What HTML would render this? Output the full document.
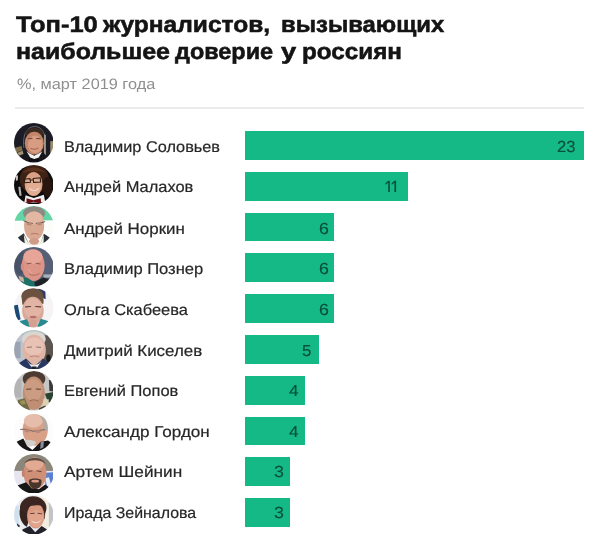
<!DOCTYPE html>
<html lang="ru">
<head>
<meta charset="utf-8">
<title>Топ-10 журналистов</title>
<style>
html,body{margin:0;padding:0;background:#fff;}
body{width:600px;height:547px;position:relative;overflow:hidden;text-rendering:geometricPrecision;font-family:"Liberation Sans",sans-serif;}
.chart{position:absolute;left:0;top:0;width:600px;height:547px;}
h1{position:absolute;left:0;margin:0;font-weight:bold;font-size:22.5px;line-height:1;color:#141414;-webkit-text-stroke:0.55px #141414;white-space:nowrap;transform-origin:0 0;}
h1 span{display:block;position:absolute;left:0;white-space:nowrap;transform-origin:0 0;}
.sub{position:absolute;left:16.7px;margin:0;font-size:15px;line-height:1;color:#8f8f8f;white-space:nowrap;transform-origin:0 0;}
.rule{position:absolute;left:14.5px;top:106.9px;width:569.3px;height:1.8px;background:#ebebeb;border:0;margin:0;}
ul{list-style:none;margin:0;padding:0;}
li{position:absolute;left:0;width:600px;height:0;}
.av{position:absolute;display:block;}
.name{position:absolute;left:63.6px;font-size:15.5px;line-height:1;color:#262626;-webkit-text-stroke:0.2px #262626;white-space:nowrap;transform-origin:0 0;}
.bar{position:absolute;left:245px;height:29px;background:#15b985;}
.val{position:absolute;font-size:16px;line-height:1;color:#0b4f3a;-webkit-text-stroke:0.15px #0b4f3a;white-space:nowrap;transform-origin:0 0;}
</style>
</head>
<body>
<div class="chart">
<h1 style="top:0"><span style="left:15.70px;top:14px;transform:scaleX(1.1331)">Топ-10</span> <span style="left:103.30px;top:14px;transform:scaleX(1.0912)">журналистов,</span> <span style="left:280.50px;top:14px;transform:scaleX(1.0600)">вызывающих</span> <span style="left:16.00px;top:41px;transform:scaleX(1.1084)">наибольшее</span> <span style="left:174.70px;top:41px;transform:scaleX(1.0417)">доверие</span> <span style="left:280.80px;top:41px;transform:scaleX(1.2141)">у</span> <span style="left:302.40px;top:41px;transform:scaleX(1.0778)">россиян</span></h1>
<p class="sub" style="top:77.00px;transform:scaleX(1.0873)">%, март 2019 года</p>
<hr class="rule">
<ul>
<li>
<svg class="av" style="left:13.60px;top:123.40px" width="39.6" height="39.6" viewBox="58 62 433.2 433.2"><defs><clipPath id="c0"><circle cx="274.6" cy="278.6" r="216.6"/></clipPath><filter id="b0" x="-10%" y="-10%" width="120%" height="120%"><feGaussianBlur stdDeviation="6"/></filter></defs><g clip-path="url(#c0)"><g filter="url(#b0)"><rect x="0" y="0" width="600" height="600" fill="#1d1e25"/><path d="M62 335 L140 315 L152 362 L76 388 Z" fill="#7d6d4e"/><path d="M95 388 L152 366 L162 402 L112 418Z" fill="#a39474"/><rect x="385" y="190" width="22" height="240" fill="#a89a84"/><rect x="455" y="260" width="30" height="150" fill="#9c8c70"/><path d="M165 330 C150 180 200 105 285 100 C370 105 415 180 398 330" fill="none" stroke="#8b8b90" stroke-width="7" stroke-linecap="round"/><ellipse cx="280" cy="172" rx="98" ry="62" fill="#3b2a22"/><ellipse cx="280" cy="283" rx="104" ry="125" fill="#c4866a"/><ellipse cx="290" cy="295" rx="80" ry="95" fill="#d89c82"/><path d="M215 235 L255 232 M305 232 L345 235" fill="none" stroke="#6b4634" stroke-width="12" stroke-linecap="round"/><path d="M240 340 C270 352 295 352 322 338" fill="none" stroke="#9a5a48" stroke-width="10" stroke-linecap="round"/><path d="M120 470 L190 370 L280 430 L370 370 L450 470 L450 520 L120 520Z" fill="#14151a"/><path d="M195 372 L235 440 L280 455 L330 440 L368 372 L330 395 L280 420 L230 395Z" fill="#f2f2f2"/><path d="M230 450 L280 462 L330 450 L335 490 L280 476 L225 490Z" fill="#0e0e12"/></g></g></svg>
<span class="name" style="top:140.00px;transform:scaleX(1.0511)">Владимир Соловьев</span>
<div class="bar" style="top:130.90px;width:339.00px;height:28.8px"></div>
<span class="val" style="left:556.60px;top:140.00px;transform:scaleX(1.0315)">23</span>
</li>
<li>
<svg class="av" style="left:13.60px;top:164.67px" width="39.6" height="39.6" viewBox="58 60 433.2 433.2"><defs><clipPath id="c1"><circle cx="274.6" cy="276.6" r="216.6"/></clipPath><filter id="b1" x="-10%" y="-10%" width="120%" height="120%"><feGaussianBlur stdDeviation="6"/></filter></defs><g clip-path="url(#c1)"><g filter="url(#b1)"><rect x="0" y="0" width="600" height="600" fill="#0d0909"/><path d="M75 180 L102 172 L100 226 L80 232Z" fill="#c9c5c5"/><path d="M105 300 L128 295 L142 395 L118 400Z" fill="#b5b0b0"/><ellipse cx="280" cy="215" rx="160" ry="160" fill="#3d2013"/><ellipse cx="425" cy="300" rx="55" ry="110" fill="#26140e"/><ellipse cx="272" cy="268" rx="98" ry="132" fill="#d9a084"/><ellipse cx="272" cy="300" rx="80" ry="95" fill="#e2ad92"/><path d="M150 150 C200 70 340 60 410 150 C360 120 220 120 150 150Z" fill="#5a301c"/><path d="M168 215 L232 208 L238 250 L175 255Z M268 208 L345 200 L350 245 L272 250Z M232 225 L268 222" fill="none" stroke="#2a1a14" stroke-width="11" stroke-linecap="round"/><path d="M230 320 C260 345 300 345 325 318" fill="none" stroke="#f4e6e0" stroke-width="11" stroke-linecap="round"/><path d="M185 390 L275 420 L385 385 L400 470 L170 470Z" fill="#f1eeee"/><path d="M195 425 L270 445 L350 425 L355 482 L270 462 L195 485Z" fill="#6b1119"/></g></g></svg>
<span class="name" style="top:180.00px;transform:scaleX(1.0601)">Андрей Малахов</span>
<div class="bar" style="top:171.72px;width:162.60px;height:28.8px"></div>
<span class="val" style="left:383.6px;top:180px;letter-spacing:-1.9px;clip-path:inset(0 0 6px 0);transform:scale(1.06,1.2)">11</span>
</li>
<li>
<svg class="av" style="left:13.60px;top:205.94px" width="39.6" height="39.6" viewBox="58 68 433.2 433.2"><defs><clipPath id="c2"><circle cx="274.6" cy="284.6" r="216.6"/></clipPath><filter id="b2" x="-10%" y="-10%" width="120%" height="120%"><feGaussianBlur stdDeviation="6"/></filter></defs><g clip-path="url(#c2)"><g filter="url(#b2)"><rect x="0" y="0" width="600" height="600" fill="#fcfcfb"/><path d="M40 230 C60 90 180 60 280 60 C380 60 480 100 500 225 Z" fill="#63d5a5"/><ellipse cx="278" cy="150" rx="120" ry="80" fill="#8d8983"/><ellipse cx="278" cy="285" rx="110" ry="160" fill="#d9a890"/><ellipse cx="278" cy="200" rx="95" ry="70" fill="#e2b8a2"/><path d="M165 230 L225 255 L260 258 M300 258 L345 255 L395 240" fill="none" stroke="#4a4038" stroke-width="9" stroke-linecap="round"/><ellipse cx="225" cy="265" rx="30" ry="16" fill="#b98a78"/><ellipse cx="335" cy="265" rx="30" ry="16" fill="#b98a78"/><path d="M245 375 C270 365 300 365 325 378" fill="none" stroke="#a86a5c" stroke-width="9" stroke-linecap="round"/><path d="M90 420 L165 365 L215 470 L180 520 L90 520Z" fill="#2a3038"/><path d="M460 420 L385 372 L350 470 L380 520 L460 520Z" fill="#2a3038"/><path d="M165 380 L215 470 L275 500 L345 470 L385 385 L380 520 L180 520Z" fill="#f1ecdf"/><ellipse cx="278" cy="455" rx="55" ry="38" fill="#cf9c86"/></g></g></svg>
<span class="name" style="top:222.00px;transform:scaleX(1.0937)">Андрей Норкин</span>
<div class="bar" style="top:212.54px;width:89.30px;height:28.8px"></div>
<span class="val" style="left:318.60px;top:222.00px;transform:scaleX(1.1121)">6</span>
</li>
<li>
<svg class="av" style="left:13.60px;top:247.21px" width="39.6" height="39.6" viewBox="58 85 433.2 433.2"><defs><clipPath id="c3"><circle cx="274.6" cy="301.6" r="216.6"/></clipPath><filter id="b3" x="-10%" y="-10%" width="120%" height="120%"><feGaussianBlur stdDeviation="6"/></filter></defs><g clip-path="url(#c3)"><g filter="url(#b3)"><rect x="0" y="0" width="600" height="600" fill="#545e74"/><ellipse cx="120" cy="250" rx="60" ry="140" fill="#485268"/><rect x="380" y="385" width="100" height="35" fill="#aab0bc"/><ellipse cx="268" cy="285" rx="125" ry="172" fill="#dc9486"/><ellipse cx="265" cy="190" rx="105" ry="80" fill="#e7a597"/><ellipse cx="150" cy="300" rx="18" ry="40" fill="#d88a80"/><path d="M200 268 L245 262 M300 262 L345 270" fill="none" stroke="#8a5a54" stroke-width="11" stroke-linecap="round"/><path d="M215 330 L255 375" fill="none" stroke="#f0b0a8" stroke-width="9" stroke-linecap="round"/><path d="M230 385 C260 400 300 398 335 375" fill="none" stroke="#a8605a" stroke-width="9" stroke-linecap="round"/><path d="M150 430 L200 420 L280 470 L300 530 L150 530Z" fill="#1b7068"/><path d="M280 470 L380 420 L440 440 L440 530 L290 530Z" fill="#1d2426"/><path d="M110 400 L160 420 L170 470 L120 450Z" fill="#c8b89c"/></g></g></svg>
<span class="name" style="top:262.00px;transform:scaleX(1.0675)">Владимир Познер</span>
<div class="bar" style="top:253.36px;width:89.30px;height:28.8px"></div>
<span class="val" style="left:318.60px;top:262.00px;transform:scaleX(1.1121)">6</span>
</li>
<li>
<svg class="av" style="left:13.60px;top:288.48px" width="39.6" height="39.6" viewBox="58 78 433.2 433.2"><defs><clipPath id="c4"><circle cx="274.6" cy="294.6" r="216.6"/></clipPath><filter id="b4" x="-10%" y="-10%" width="120%" height="120%"><feGaussianBlur stdDeviation="6"/></filter></defs><g clip-path="url(#c4)"><g filter="url(#b4)"><rect x="0" y="0" width="600" height="600" fill="#f5f3f3"/><path d="M55 270 L100 260 L130 420 L90 440Z" fill="#1b4a72"/><path d="M320 70 L400 90 L405 200 L340 170Z" fill="#2b3b6c"/><ellipse cx="262" cy="165" rx="122" ry="85" fill="#5e4636"/><path d="M140 170 C150 100 240 70 330 100 C380 130 385 200 380 250 L150 260Z" fill="#6b513f"/><ellipse cx="265" cy="325" rx="118" ry="150" fill="#d9a898"/><ellipse cx="265" cy="300" rx="100" ry="110" fill="#e2b4a4"/><path d="M185 285 L240 280 M295 280 L350 285" fill="none" stroke="#5a4038" stroke-width="12" stroke-linecap="round"/><ellipse cx="268" cy="395" rx="38" ry="14" fill="#b8706c"/><path d="M120 440 L200 420 L240 500 L120 520Z" fill="#2a8a92"/><path d="M430 440 L350 415 L310 500 L430 520Z" fill="#2a8a92"/><ellipse cx="268" cy="470" rx="50" ry="45" fill="#d4a090"/></g></g></svg>
<span class="name" style="top:303.00px;transform:scaleX(1.0614)">Ольга Скабеева</span>
<div class="bar" style="top:294.18px;width:89.30px;height:28.8px"></div>
<span class="val" style="left:318.60px;top:303.00px;transform:scaleX(1.1121)">6</span>
</li>
<li>
<svg class="av" style="left:13.60px;top:329.75px" width="39.6" height="39.6" viewBox="58 72 433.2 433.2"><defs><clipPath id="c5"><circle cx="274.6" cy="288.6" r="216.6"/></clipPath><filter id="b5" x="-10%" y="-10%" width="120%" height="120%"><feGaussianBlur stdDeviation="6"/></filter></defs><g clip-path="url(#c5)"><g filter="url(#b5)"><rect x="0" y="0" width="600" height="600" fill="#bcc4ce"/><rect x="345" y="0" width="260" height="600" fill="#5b554f"/><rect x="60" y="200" width="70" height="180" fill="#9aa4b2"/><path d="M100 90 C200 60 350 60 420 100 L420 130 L100 130Z" fill="#aebfc2"/><ellipse cx="275" cy="170" rx="130" ry="85" fill="#d9d5d1"/><ellipse cx="278" cy="290" rx="128" ry="165" fill="#e0b4a4"/><ellipse cx="278" cy="250" rx="105" ry="100" fill="#e8c2b4"/><path d="M205 262 L250 258 M305 258 L350 262" fill="none" stroke="#8a6a60" stroke-width="10" stroke-linecap="round"/><path d="M235 365 C265 352 300 352 330 365" fill="none" stroke="#a87068" stroke-width="8" stroke-linecap="round"/><path d="M100 440 L190 385 L280 470 L375 385 L460 440 L460 530 L100 530Z" fill="#2b3861"/><path d="M195 400 L250 480 L280 490 L315 480 L365 400 L330 440 L280 460 L230 440Z" fill="#f0f0f0"/><path d="M250 470 L305 470 L300 510 L255 510Z" fill="#20242c"/><ellipse cx="435" cy="380" rx="25" ry="40" fill="#1a1a1a"/></g></g></svg>
<span class="name" style="top:344.00px;transform:scaleX(1.0915)">Дмитрий Киселев</span>
<div class="bar" style="top:335.00px;width:74.00px;height:28.8px"></div>
<span class="val" style="left:301.60px;top:344.00px;transform:scaleX(1.0506)">5</span>
</li>
<li>
<svg class="av" style="left:13.60px;top:371.02px" width="39.6" height="39.6" viewBox="58 62 433.2 433.2"><defs><clipPath id="c6"><circle cx="274.6" cy="278.6" r="216.6"/></clipPath><filter id="b6" x="-10%" y="-10%" width="120%" height="120%"><feGaussianBlur stdDeviation="6"/></filter></defs><g clip-path="url(#c6)"><g filter="url(#b6)"><rect x="0" y="0" width="600" height="600" fill="#c6c6c6"/><rect x="60" y="150" width="80" height="200" fill="#b4b4b6"/><path d="M440 160 L500 170 L500 290 L445 280Z" fill="#3a3a3c"/><path d="M395 310 L500 290 L500 410 L430 400Z" fill="#2b4232"/><ellipse cx="277" cy="150" rx="124" ry="88" fill="#4b3b31"/><ellipse cx="275" cy="305" rx="120" ry="182" fill="#c08e72"/><ellipse cx="270" cy="270" rx="100" ry="120" fill="#cc9c82"/><path d="M195 262 L245 258 M300 258 L350 262" fill="none" stroke="#5a4034" stroke-width="11" stroke-linecap="round"/><path d="M235 385 C262 375 295 375 320 388" fill="none" stroke="#8a5a48" stroke-width="9" stroke-linecap="round"/><path d="M100 380 L175 360 L215 450 L240 500 L100 500Z" fill="#6f6a44"/><path d="M380 365 L440 375 L430 450 L370 440Z" fill="#dad2b2"/><path d="M330 470 L400 440 L420 460 L380 500 L330 500Z" fill="#4b4232"/><path d="M120 390 L170 380 L190 420 L140 430Z" fill="#9a9058"/></g></g></svg>
<span class="name" style="top:384.00px;transform:scaleX(1.0610)">Евгений Попов</span>
<div class="bar" style="top:375.82px;width:59.60px;height:28.8px"></div>
<span class="val" style="left:289.30px;top:384.00px;transform:scaleX(1.0674)">4</span>
</li>
<li>
<svg class="av" style="left:13.60px;top:412.29px" width="39.6" height="39.6" viewBox="58 74 433.2 433.2"><defs><clipPath id="c7"><circle cx="274.6" cy="290.6" r="216.6"/></clipPath><filter id="b7" x="-10%" y="-10%" width="120%" height="120%"><feGaussianBlur stdDeviation="6"/></filter></defs><g clip-path="url(#c7)"><g filter="url(#b7)"><rect x="0" y="0" width="600" height="600" fill="#fcfcfc"/><ellipse cx="290" cy="270" rx="138" ry="172" fill="#d9a088"/><ellipse cx="270" cy="170" rx="105" ry="75" fill="#e6bcaa"/><path d="M340 115 C410 130 435 200 425 280 L385 270 C390 200 370 150 340 115Z" fill="#b3aba3"/><path d="M130 265 L185 262 L235 275 L270 285 L330 275 L395 268" fill="none" stroke="#6a5a54" stroke-width="10" stroke-linecap="round"/><ellipse cx="205" cy="280" rx="32" ry="18" fill="#b88878"/><ellipse cx="320" cy="285" rx="32" ry="18" fill="#b88878"/><path d="M165 385 C200 370 260 380 300 400 C290 450 230 465 185 440Z" fill="#d3cfcb"/><path d="M85 400 L160 365 L200 445 L260 490 L350 400 L430 385 L465 410 L440 500 L100 500Z" fill="#191919"/><path d="M350 400 L385 395 L380 460 L345 480Z" fill="#8a8e9a"/></g></g></svg>
<span class="name" style="top:425.00px;transform:scaleX(1.1018)">Александр Гордон</span>
<div class="bar" style="top:416.64px;width:59.60px;height:28.8px"></div>
<span class="val" style="left:289.30px;top:425.00px;transform:scaleX(1.0674)">4</span>
</li>
<li>
<svg class="av" style="left:13.60px;top:453.56px" width="39.6" height="39.6" viewBox="58 65 433.2 433.2"><defs><clipPath id="c8"><circle cx="274.6" cy="281.6" r="216.6"/></clipPath><filter id="b8" x="-10%" y="-10%" width="120%" height="120%"><feGaussianBlur stdDeviation="6"/></filter></defs><g clip-path="url(#c8)"><g filter="url(#b8)"><rect x="0" y="0" width="600" height="600" fill="#8c877a"/><rect x="0" y="250" width="600" height="350" fill="#e6e4ee"/><path d="M400 270 L490 265 L490 420 L400 430Z" fill="#5a80d2"/><path d="M400 330 L440 320 L470 420 L420 425Z" fill="#e8ecf4"/><ellipse cx="288" cy="275" rx="125" ry="175" fill="#d09078"/><ellipse cx="280" cy="175" rx="100" ry="70" fill="#e2aa92"/><path d="M170 170 C200 90 370 85 405 175 C360 120 220 120 170 170Z" fill="#5b4b41"/><ellipse cx="160" cy="280" rx="16" ry="36" fill="#c8806c"/><path d="M215 255 L255 250 M310 250 L355 258" fill="none" stroke="#5a3a30" stroke-width="10" stroke-linecap="round"/><path d="M222 350 C252 328 328 328 358 350 C366 418 328 446 290 448 C250 446 216 414 222 350Z" fill="#4a342b"/><ellipse cx="290" cy="362" rx="42" ry="16" fill="#d89c88"/><path d="M95 410 L190 375 L250 440 L330 450 L400 400 L440 430 L440 500 L95 500Z" fill="#171717"/></g></g></svg>
<span class="name" style="top:465.00px;transform:scaleX(1.1112)">Артем Шейнин</span>
<div class="bar" style="top:457.46px;width:44.50px;height:28.8px"></div>
<span class="val" style="left:273.50px;top:465.00px;transform:scaleX(1.1101)">3</span>
</li>
<li>
<svg class="av" style="left:13.60px;top:494.83px" width="39.6" height="39.6" viewBox="58 62 433.2 433.2"><defs><clipPath id="c9"><circle cx="274.6" cy="278.6" r="216.6"/></clipPath><filter id="b9" x="-10%" y="-10%" width="120%" height="120%"><feGaussianBlur stdDeviation="6"/></filter></defs><g clip-path="url(#c9)"><g filter="url(#b9)"><rect x="0" y="0" width="600" height="600" fill="#e9edf1"/><rect x="330" y="0" width="270" height="600" fill="#f1ede1"/><rect x="440" y="100" width="60" height="350" fill="#c2c6ca"/><rect x="60" y="180" width="50" height="200" fill="#cfe0ee"/><ellipse cx="268" cy="205" rx="145" ry="128" fill="#3b2521"/><path d="M120 220 C110 300 140 380 200 410 L230 300Z" fill="#35201c"/><path d="M340 110 C400 140 410 250 390 330 L360 300Z" fill="#3b2521"/><ellipse cx="295" cy="290" rx="95" ry="138" fill="#d89880"/><ellipse cx="300" cy="320" rx="80" ry="95" fill="#e0a48c"/><path d="M200 200 C230 130 330 120 375 190 C330 165 260 170 200 200Z" fill="#3b2521"/><path d="M240 265 L280 262 M320 262 L360 268" fill="none" stroke="#5a342c" stroke-width="10" stroke-linecap="round"/><path d="M255 350 C285 372 320 370 345 345" fill="none" stroke="#f6eae6" stroke-width="10" stroke-linecap="round"/><path d="M150 440 L230 400 L290 470 L360 400 L420 440 L420 500 L150 500Z" fill="#20202a"/><path d="M95 375 L125 400 L110 415 L85 395Z" fill="#30343a"/></g></g></svg>
<span class="name" style="top:506.00px;transform:scaleX(1.0268)">Ирада Зейналова</span>
<div class="bar" style="top:498.28px;width:44.50px;height:28.8px"></div>
<span class="val" style="left:273.50px;top:506.00px;transform:scaleX(1.1101)">3</span>
</li>
</ul>
</div>
</body>
</html>
